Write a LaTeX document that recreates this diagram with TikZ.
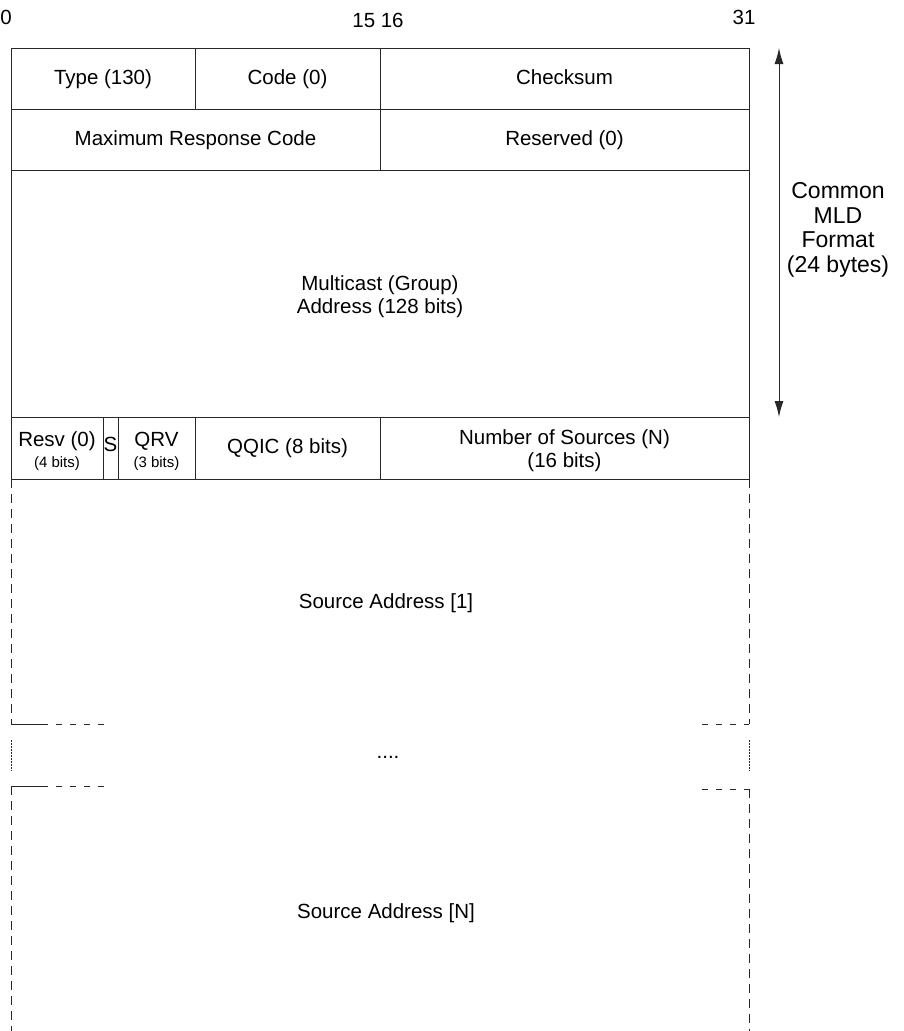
\documentclass[tikz,border=0pt]{standalone}
\usepackage{fontspec}
\setmainfont{Liberation Sans}
\usepackage{xcolor}
\definecolor{mldline}{RGB}{40,40,40}
\usetikzlibrary{arrows.meta, positioning}
\newcommand{\mldbig}{\fontsize{20.5}{23}\selectfont}
\newcommand{\mldsmall}{\fontsize{15}{17}\selectfont}
\tikzset{
  field/.style={draw=mldline, line width=1pt, inner sep=0pt, outer sep=0pt,
                align=center, font=\mldbig},
  oneline/.style={text height=15pt, text depth=4pt},
  twoline/.style={yshift=-3pt},
  bitno/.style={font=\mldbig, inner sep=0pt},
  openside/.style={draw=mldline, line width=1pt, dash pattern=on 9pt off 6pt},
  openedge/.style={draw=mldline, line width=1pt, dash pattern=on 6pt off 8pt},
  gapside/.style={draw=mldline, line width=1pt, dash pattern=on 1.5pt off 1.5pt}
}

\begin{document}
\begin{tikzpicture}[x=1pt, y=-1pt]

\useasboundingbox (0,0) rectangle (903,1031);

% === bit numbers ===
\node[bitno] (b0)  at (6,17)   {0};
\node[bitno] (b15) at (378,20) {15 16};
\node[bitno] (b31) at (744,17) {31};

% === word 1 ===
\node[field, oneline, minimum width=184pt, minimum height=61pt] (type)  at (103,78.5)   {Type (130)};
\node[field, oneline, minimum width=185pt, minimum height=61pt] (code)  at (287.5,78.5) {Code (0)};
\node[field, oneline, minimum width=369pt, minimum height=61pt] (chk)   at (564.5,78.5) {Checksum};

% === word 2 ===
\node[field, oneline, minimum width=369pt, minimum height=61pt] (mrc)   at (195.5,139.5) {Maximum Response Code};
\node[field, oneline, minimum width=369pt, minimum height=61pt] (resv0) at (564.5,139.5) {Reserved (0)};

% === multicast address ===
\node[field, minimum width=738pt, minimum height=247pt] (mcast) at (380,293.5) {};
\node[font=\mldbig, align=center, twoline] (mtext) at (mcast) {Multicast (Group)\\Address (128 bits)};

% === word 7 ===
\node[field, minimum width=92pt, minimum height=62pt] (resv) at (57,448) {};
\node[align=center, twoline, font=\mldbig] at (resv) {Resv (0)\\[-2pt]{\mldsmall (4 bits)}};
\node[field, oneline, minimum width=15pt, minimum height=62pt, text depth=8pt] (sflag) at (110.5,448) {S};
\node[field, minimum width=77pt, minimum height=62pt] (qrv) at (156.5,448) {};
\node[align=center, twoline, font=\mldbig] at (qrv) {QRV\\[-2pt]{\mldsmall (3 bits)}};
\node[field, oneline, minimum width=185pt, minimum height=62pt] (qqic) at (287.5,448) {QQIC (8 bits)};
\node[field, minimum width=369pt, minimum height=62pt] (nsrc) at (564.5,448) {};
\node[align=center, twoline, font=\mldbig] at (nsrc) {Number of Sources (N)\\(16 bits)};

% === common format arrow ===
\coordinate (fmttop) at (779,48);
\coordinate (fmtbot) at (779,417);
\draw[mldline, line width=1pt, {Latex[length=16pt,width=9pt]}-{Latex[length=16pt,width=9pt]}]
     (fmttop) -- (fmtbot);
\node[font=\fontsize{23}{24.5}\selectfont, align=center] (fmt) at (838,230)
     {Common\\MLD\\Format\\(24 bytes)};

% === source address [1] ===
\coordinate (s1l) at (11,724);
\coordinate (s1r) at (749,724);
\path[openside] (resv.south west) -- (s1l);
\path[openside] (nsrc.south east) -- (s1r);
\draw[mldline, line width=1pt] (s1l) -- (42,724);
\path[openedge] (42,724) -- (104,724);
\path[openedge] (702,724) -- (s1r);
\node[font=\mldbig] (src1) at (386,603) {Source Address [1]};

% === gap ===
\path[gapside] (11,740) -- (11,771);
\path[gapside] (749,740) -- (749,771);
\node[font=\mldbig] (dots) at (388,757) {....};

% === source address [N] ===
\coordinate (snl) at (11,786);
\coordinate (snr) at (749,789);
\draw[mldline, line width=1pt] (snl) -- (42,786);
\path[openedge] (42,786) -- (104,786);
\path[openedge] (702,789) -- (snr);
\path[openside] (snl) -- (11,1031);
\path[openside] (snr) -- (749,1031);
\node[font=\mldbig] (srcn) at (386,913) {Source Address [N]};

\end{tikzpicture}
\end{document}
